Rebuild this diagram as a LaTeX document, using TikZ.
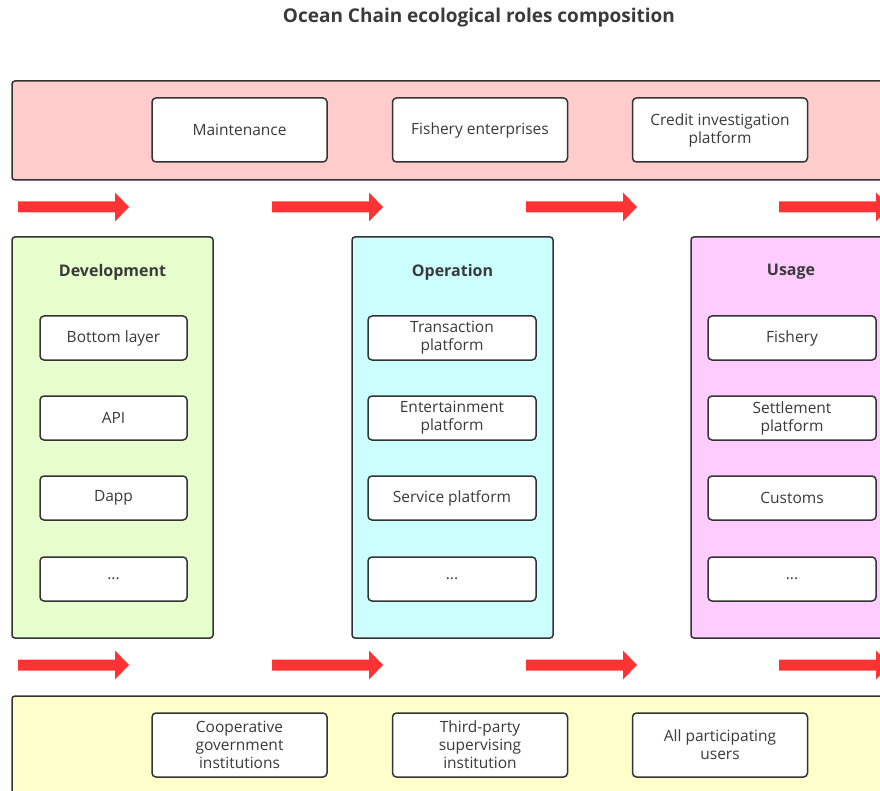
\documentclass[tikz,border=0pt]{standalone}
\usepackage{fontspec}
\setmainfont{Open Sans}
\definecolor{edge}{HTML}{333333}
\definecolor{txt}{HTML}{3A3A3A}
\definecolor{arrowred}{HTML}{FF3333}
\definecolor{pinkbg}{HTML}{FFCCCC}
\definecolor{greenbg}{HTML}{E6FFCC}
\definecolor{cyanbg}{HTML}{CCFFFF}
\definecolor{violetbg}{HTML}{FFCCFF}
\definecolor{yellowbg}{HTML}{FFFFCC}
\tikzset{
  band/.style={draw=edge, line width=1.5pt, rounded corners=3pt},
  role/.style={draw=edge, fill=white, line width=1.5pt, rounded corners=4pt,
    align=center, text=txt, inner sep=0pt, font=\fontsize{15.5}{18}\selectfont},
  head/.style={text=txt, font=\bfseries\fontsize{16}{18}\selectfont}
}

\begin{document}
\begin{tikzpicture}[x=1pt,y=-1pt]
  \useasboundingbox (0,0) rectangle (880,791);
  \clip (0,0) rectangle (880,791);

  \node[text=txt, font=\bfseries\fontsize{19}{22}\selectfont] (title) at (479,18) {Ocean Chain ecological roles composition};

  % top band
  \draw[band, fill=pinkbg] (12,81) rectangle (900,180);
  \node[role, minimum width=175pt, minimum height=64pt] (t1) at (239.5,130) {Maintenance};
  \node[role, minimum width=175pt, minimum height=64pt] (t2) at (480,130) {Fishery enterprises};
  \node[role, minimum width=175pt, minimum height=64pt] (t3) at (720,130) {Credit investigation\\platform};

  % arrows
  \foreach \x in {18,272,526,779}
    \foreach \y in {207,665}
      \fill[arrowred] (\x,\y-5.5) -- ++(97,0) -- ++(0,-9) -- ++(14,14.5)
        -- ++(-14,14.5) -- ++(0,-9) -- ++(-97,0) -- cycle;

  % columns
  \draw[band, fill=greenbg] (12,237) rectangle (213,638);
  \draw[band, fill=cyanbg] (352,237) rectangle (553,638);
  \draw[band, fill=violetbg] (691,237) rectangle (900,638);
  \node[head] (dev) at (112.5,272) {Development};
  \node[head] (ops) at (452.5,272) {Operation};
  \node[head] (use) at (791,272) {Usage};

  \node[role, minimum width=147pt, minimum height=44pt] (d1) at (113.5,338) {Bottom layer};
  \node[role, minimum width=147pt, minimum height=44pt] (d2) at (113.5,418) {API};
  \node[role, minimum width=147pt, minimum height=44pt] (d3) at (113.5,498) {Dapp};
  \node[role, minimum width=147pt, minimum height=44pt] (d4) at (113.5,579) {...};

  \node[role, minimum width=168pt, minimum height=44pt] (o1) at (452,338) {Transaction\\platform};
  \node[role, minimum width=168pt, minimum height=44pt] (o2) at (452,418) {Entertainment\\platform};
  \node[role, minimum width=168pt, minimum height=44pt] (o3) at (452,498) {Service platform};
  \node[role, minimum width=168pt, minimum height=44pt] (o4) at (452,579) {...};

  \node[role, minimum width=168pt, minimum height=44pt] (u1) at (792,338) {Fishery};
  \node[role, minimum width=168pt, minimum height=44pt] (u2) at (792,418) {Settlement\\platform};
  \node[role, minimum width=168pt, minimum height=44pt] (u3) at (792,498) {Customs};
  \node[role, minimum width=168pt, minimum height=44pt] (u4) at (792,579) {...};

  % bottom band
  \draw[band, fill=yellowbg] (12,696) rectangle (900,820);
  \node[role, minimum width=175pt, minimum height=64pt] (b1) at (239.5,745) {Cooperative\\government\\institutions};
  \node[role, minimum width=175pt, minimum height=64pt] (b2) at (480,745) {Third-party\\supervising\\institution};
  \node[role, minimum width=175pt, minimum height=64pt] (b3) at (720,745) {All participating\\users};
\end{tikzpicture}
\end{document}
